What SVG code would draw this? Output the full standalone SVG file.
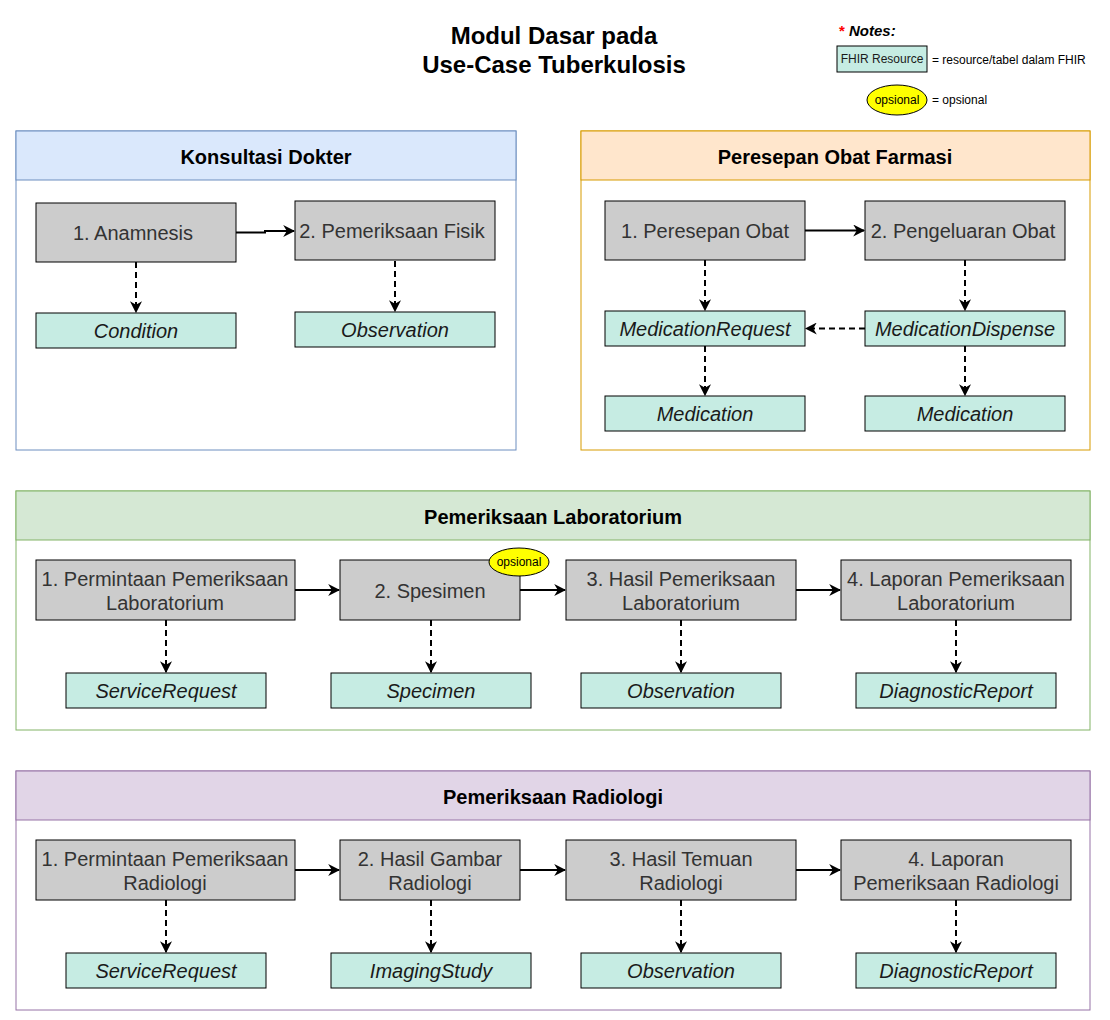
<svg xmlns="http://www.w3.org/2000/svg" width="1110" height="1020" viewBox="0 0 1110 1020">
<style>
text{font-family:"Liberation Sans",Arial,sans-serif}
.title{font-size:24px;font-weight:bold;fill:#000;text-anchor:middle}
.hdr{font-size:20px;font-weight:bold;fill:#000;text-anchor:middle}
.proc{fill:#cccccc;stroke:#000;stroke-width:1}
.pt{font-size:20px;fill:#333;text-anchor:middle}
.res{fill:#c6ece3;stroke:#000;stroke-width:1}
.rt{font-size:20px;font-style:italic;fill:#1a1a1a;text-anchor:middle}
.solid{stroke:#000;stroke-width:2;fill:none;marker-end:url(#ah)}
.dash{stroke:#000;stroke-width:2;fill:none;stroke-dasharray:6 4;marker-end:url(#ah)}
.opt{fill:#ffff00;stroke:#000;stroke-width:1}
.ot{font-size:12px;fill:#000;text-anchor:middle}
.note{font-size:12px;fill:#000}
</style>
<defs>
<marker id="ah" viewBox="0 0 10 10" refX="9" refY="5" markerWidth="6" markerHeight="6" markerUnits="strokeWidth" orient="auto">
<path d="M0,0 L10,5 L0,10 L3,5 Z" fill="#000"/>
</marker>
</defs>
<rect width="1110" height="1020" fill="#fff"/>

<g id="title">
<text class="title" x="554" y="44">Modul Dasar pada</text>
<text class="title" x="554" y="73">Use-Case Tuberkulosis</text>
</g>

<g id="notes">
<text x="839" y="36" font-size="15" fill="#ff0000" font-weight="bold">*</text>
<text x="849" y="36" font-size="15" font-weight="bold" font-style="italic" fill="#000">Notes:</text>
<rect class="res" x="837" y="46" width="90" height="26"/>
<text x="882" y="63" font-size="12" fill="#1a1a1a" text-anchor="middle">FHIR Resource</text>
<text class="note" x="932" y="64">= resource/tabel dalam FHIR</text>
<ellipse class="opt" cx="897" cy="100" rx="30" ry="15"/>
<text class="ot" x="897" y="104">opsional</text>
<text class="note" x="932" y="104">= opsional</text>
</g>

<!-- Containers -->
<g id="konsultasi">
<rect x="16" y="131" width="500" height="319" fill="#fff" stroke="#6c8ebf"/>
<rect x="16" y="131" width="500" height="49" fill="#dae8fc" stroke="#6c8ebf"/>
<text class="hdr" x="266" y="164">Konsultasi Dokter</text>
</g>
<g id="farmasi">
<rect x="581" y="131" width="509" height="319" fill="#fff" stroke="#d79b00"/>
<rect x="581" y="131" width="509" height="49" fill="#ffe6cc" stroke="#d79b00"/>
<text class="hdr" x="835" y="164">Peresepan Obat Farmasi</text>
</g>
<g id="lab">
<rect x="16" y="491" width="1074" height="239" fill="#fff" stroke="#82b366"/>
<rect x="16" y="491" width="1074" height="49" fill="#d5e8d4" stroke="#82b366"/>
<text class="hdr" x="553" y="524">Pemeriksaan Laboratorium</text>
</g>
<g id="radiologi">
<rect x="16" y="771" width="1074" height="239" fill="#fff" stroke="#9673a6"/>
<rect x="16" y="771" width="1074" height="49" fill="#e1d5e7" stroke="#9673a6"/>
<text class="hdr" x="553" y="804">Pemeriksaan Radiologi</text>
</g>

<!-- Konsultasi nodes -->
<g id="anamnesis"><rect class="proc" x="36" y="203" width="200" height="59"/><text class="pt" x="133" y="240">1. Anamnesis</text></g>
<g id="fisik"><rect class="proc" x="295" y="201" width="200" height="59"/><text class="pt" x="392" y="238">2. Pemeriksaan Fisik</text></g>
<g id="condition"><rect class="res" x="36" y="313" width="200" height="35"/><text class="rt" x="136" y="338">Condition</text></g>
<g id="observation1"><rect class="res" x="295" y="312" width="200" height="35"/><text class="rt" x="395" y="337">Observation</text></g>

<!-- Farmasi nodes -->
<g id="peresepan"><rect class="proc" x="605" y="201" width="200" height="59"/><text class="pt" x="705" y="238">1. Peresepan Obat</text></g>
<g id="pengeluaran"><rect class="proc" x="865" y="201" width="200" height="59"/><text class="pt" x="963" y="238">2. Pengeluaran Obat</text></g>
<g id="medreq"><rect class="res" x="605" y="311" width="200" height="35"/><text class="rt" x="705" y="336">MedicationRequest</text></g>
<g id="meddisp"><rect class="res" x="865" y="311" width="200" height="35"/><text class="rt" x="965" y="336">MedicationDispense</text></g>
<g id="med1"><rect class="res" x="605" y="396" width="200" height="35"/><text class="rt" x="705" y="421">Medication</text></g>
<g id="med2"><rect class="res" x="865" y="396" width="200" height="35"/><text class="rt" x="965" y="421">Medication</text></g>

<!-- Lab nodes -->
<g id="lab1"><rect class="proc" x="36" y="560" width="259" height="60"/><text class="pt" x="165" y="586">1. Permintaan Pemeriksaan</text><text class="pt" x="165" y="610">Laboratorium</text></g>
<g id="lab2"><rect class="proc" x="340" y="560" width="180" height="60"/><text class="pt" x="430" y="598">2. Spesimen</text></g>
<g id="lab3"><rect class="proc" x="566" y="560" width="230" height="60"/><text class="pt" x="681" y="586">3. Hasil Pemeriksaan</text><text class="pt" x="681" y="610">Laboratorium</text></g>
<g id="lab4"><rect class="proc" x="841" y="560" width="230" height="60"/><text class="pt" x="956" y="586">4. Laporan Pemeriksaan</text><text class="pt" x="956" y="610">Laboratorium</text></g>
<g id="lab-opsional"><ellipse class="opt" cx="519" cy="562" rx="30" ry="14"/><text class="ot" x="519" y="566">opsional</text></g>
<g id="labres1"><rect class="res" x="66" y="673" width="200" height="35"/><text class="rt" x="166" y="698">ServiceRequest</text></g>
<g id="labres2"><rect class="res" x="331" y="673" width="200" height="35"/><text class="rt" x="431" y="698">Specimen</text></g>
<g id="labres3"><rect class="res" x="581" y="673" width="200" height="35"/><text class="rt" x="681" y="698">Observation</text></g>
<g id="labres4"><rect class="res" x="856" y="673" width="200" height="35"/><text class="rt" x="956" y="698">DiagnosticReport</text></g>

<!-- Radiologi nodes -->
<g id="rad1"><rect class="proc" x="36" y="840" width="259" height="60"/><text class="pt" x="165" y="866">1. Permintaan Pemeriksaan</text><text class="pt" x="165" y="890">Radiologi</text></g>
<g id="rad2"><rect class="proc" x="340" y="840" width="180" height="60"/><text class="pt" x="430" y="866">2. Hasil Gambar</text><text class="pt" x="430" y="890">Radiologi</text></g>
<g id="rad3"><rect class="proc" x="566" y="840" width="230" height="60"/><text class="pt" x="681" y="866">3. Hasil Temuan</text><text class="pt" x="681" y="890">Radiologi</text></g>
<g id="rad4"><rect class="proc" x="841" y="840" width="230" height="60"/><text class="pt" x="956" y="866">4. Laporan</text><text class="pt" x="956" y="890">Pemeriksaan Radiologi</text></g>
<g id="radres1"><rect class="res" x="66" y="953" width="200" height="35"/><text class="rt" x="166" y="978">ServiceRequest</text></g>
<g id="radres2"><rect class="res" x="331" y="953" width="200" height="35"/><text class="rt" x="431" y="978">ImagingStudy</text></g>
<g id="radres3"><rect class="res" x="581" y="953" width="200" height="35"/><text class="rt" x="681" y="978">Observation</text></g>
<g id="radres4"><rect class="res" x="856" y="953" width="200" height="35"/><text class="rt" x="956" y="978">DiagnosticReport</text></g>

<g id="connectors">
<path class="solid" d="M236,232.5 L265,232.5 L265,231 L294,231"/>
<path class="dash" d="M136,262 L136,312"/>
<path class="dash" d="M395,261 L395,311"/>
<path class="solid" d="M805,230.5 L864,230.5"/>
<path class="dash" d="M705,260 L705,310"/>
<path class="dash" d="M965,260 L965,310"/>
<path class="dash" d="M865,328.5 L806,328.5"/>
<path class="dash" d="M705,346 L705,395"/>
<path class="dash" d="M965,346 L965,395"/>
<path class="solid" d="M295,590 L339,590"/>
<path class="solid" d="M520,590 L565,590"/>
<path class="solid" d="M796,590 L840,590"/>
<path class="dash" d="M166,620 L166,672"/>
<path class="dash" d="M431,620 L431,672"/>
<path class="dash" d="M681,620 L681,672"/>
<path class="dash" d="M956,620 L956,672"/>
<path class="solid" d="M295,870 L339,870"/>
<path class="solid" d="M520,870 L565,870"/>
<path class="solid" d="M796,870 L840,870"/>
<path class="dash" d="M166,900 L166,952"/>
<path class="dash" d="M431,900 L431,952"/>
<path class="dash" d="M681,900 L681,952"/>
<path class="dash" d="M956,900 L956,952"/>
</g>
</svg>
